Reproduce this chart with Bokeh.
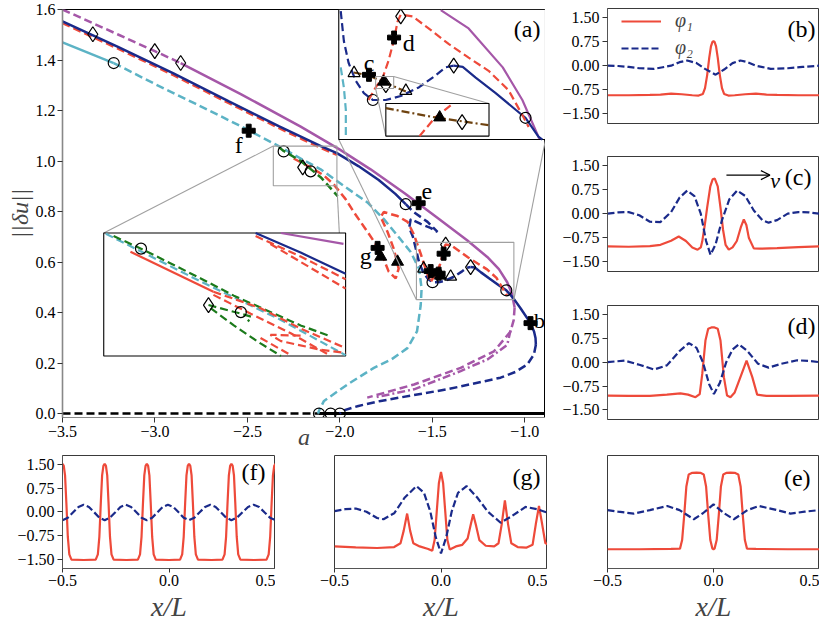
from math import pi
from bokeh.plotting import figure
from bokeh.layouts import row, column
from bokeh.models import FixedTicker, Label, Arrow, OpenHead
from bokeh.embed import file_html
from bokeh.resources import INLINE

FONT = "Liberation Serif"
RED = "#ee4a3a"
NAVY = "#1a2a8a"
CYAN = "#5cb3c5"
PURPLE = "#a557a8"
GREEN = "#1b7a1b"
BROWN = "#6e420f"
GRAY = "#a0a0a0"

# ---------------- panel (a): ticks ----------------
a_xticks = [-3.5, -3.0, -2.5, -2.0, -1.5, -1.0]
a_xlabels = ["−3.5", "−3.0", "−2.5", "−2.0", "−1.5", "−1.0"]
a_yticks = [0.0, 0.2, 0.4, 0.6, 0.8, 1.0, 1.2, 1.4, 1.6]
a_ylabels = ["0.0", "0.2", "0.4", "0.6", "0.8", "1.0", "1.2", "1.4", "1.6"]

# ---------------- panel (a): branches ----------------
trivial_dash_x = [-3.5, -2.113]
trivial_dash_y = [0.0, 0.0]
trivial_solid_x = [-2.113, -0.888]
trivial_solid_y = [0.0, 0.0]

purple_dash1_x = [-3.5, -3.2, -3.001, -2.861]
purple_dash1_y = [1.600, 1.501, 1.435, 1.388]
purple_solid_x = [-2.861, -2.536, -2.212, -2.0, -1.834, -1.65, -1.473, -1.312, -1.203, -1.14, -1.095, -1.07, -1.055]
purple_solid_y = [1.388, 1.265, 1.136, 1.045, 0.967, 0.872, 0.775, 0.686, 0.620, 0.572, 0.520, 0.475, 0.420]
purple_dash2_x = [-1.055, -1.060, -1.077, -1.167, -1.347, -1.599, -1.852]
purple_dash2_y = [0.420, 0.370, 0.325, 0.246, 0.181, 0.115, 0.063]
purple_dash3_x = [-1.077, -1.095, -1.200, -1.347, -1.599, -1.816]
purple_dash3_y = [0.330, 0.272, 0.215, 0.168, 0.096, 0.063]

navy_solid1_x = [-3.5, -3.2, -2.9, -2.6, -2.328, -2.1, -2.016, -1.9, -1.79, -1.70, -1.644]
navy_solid1_y = [1.553, 1.452, 1.347, 1.236, 1.137, 1.058, 1.031, 0.980, 0.925, 0.870, 0.829]
navy_dash1_x = [-1.644, -1.601, -1.526, -1.472, -1.510, -1.563, -1.617, -1.625, -1.605, -1.585, -1.572,
                -1.550, -1.522, -1.499, -1.466, -1.428, -1.382, -1.339, -1.314, -1.293]
navy_dash1_y = [0.829, 0.798, 0.759, 0.719, 0.735, 0.751, 0.770, 0.735, 0.700, 0.640, 0.600,
                0.560, 0.532, 0.520, 0.520, 0.527, 0.542, 0.563, 0.577, 0.580]
navy_solid2_x = [-1.293, -1.270, -1.237, -1.186, -1.135, -1.100, -1.060, -1.023, -0.969, -0.950, -0.942, -0.940]
navy_solid2_y = [0.580, 0.578, 0.559, 0.532, 0.505, 0.488, 0.455, 0.417, 0.358, 0.325, 0.299, 0.272]
navy_dash2_x = [-0.940, -0.951, -0.987, -1.05, -1.131, -1.28, -1.419, -1.6, -1.779, -1.9, -1.986, -2.0]
navy_dash2_y = [0.272, 0.233, 0.194, 0.165, 0.142, 0.118, 0.096, 0.073, 0.050, 0.030, 0.011, 0.0]

cyan_solid_x = [-3.5, -3.223]
cyan_solid_y = [1.470, 1.388]
cyan_dash_x = [-3.223, -3.0, -2.779, -2.55, -2.336, -2.2, -2.104, -1.978, -1.851, -1.762, -1.689, -1.617,
               -1.572, -1.558, -1.563, -1.583, -1.635, -1.72, -1.816, -1.959, -2.086, -2.113, -2.118]
cyan_dash_y = [1.388, 1.305, 1.226, 1.143, 1.061, 1.005, 0.967, 0.901, 0.836, 0.770, 0.705, 0.640,
               0.574, 0.495, 0.428, 0.325, 0.259, 0.215, 0.181, 0.115, 0.050, 0.011, 0.0]

green_x = [-2.33, -2.304, -2.212, -2.104, -2.012]
green_y = [1.055, 1.040, 1.000, 0.936, 0.861]

red_top_x = [-3.5, -3.2, -2.9, -2.6, -2.328, -2.2, -2.1, -2.016]
red_top_y = [1.546, 1.445, 1.340, 1.229, 1.130, 1.085, 1.051, 1.024]
red_branch_x = [-2.25, -2.16, -2.09, -2.034, -1.969, -1.925, -1.850, -1.779, -1.736, -1.698, -1.682, -1.709,
                -1.742, -1.779, -1.763, -1.688, -1.634, -1.601, -1.563, -1.535, -1.515, -1.510, -1.492,
                -1.474, -1.459, -1.446, -1.436, -1.428, -1.398, -1.357, -1.306, -1.255, -1.204, -1.153,
                -1.115, -1.097]
red_branch_y = [1.010, 0.975, 0.945, 0.908, 0.849, 0.798, 0.719, 0.641, 0.562, 0.535, 0.574, 0.653,
                0.719, 0.778, 0.798, 0.782, 0.759, 0.711, 0.633, 0.570, 0.530, 0.520, 0.542,
                0.559, 0.589, 0.623, 0.657, 0.669, 0.666, 0.645, 0.618, 0.594, 0.571, 0.537,
                0.490, 0.468]

# markers of panel (a)
circ_x = [-3.223, -2.304, -2.158, -1.644, -1.499, -1.100, -2.113, -2.050, -2.0]
circ_y = [1.388, 1.038, 0.959, 0.829, 0.520, 0.488, 0.0, 0.0, 0.0]
diam_x = [-3.336, -3.001, -2.861, -2.201, -1.428, -1.293]
diam_y = [1.502, 1.435, 1.388, 0.975, 0.669, 0.580]
plus_x = [-2.493, -1.574, -1.796, -1.439, -1.509, -1.466, -0.969]
plus_y = [1.120, 0.833, 0.656, 0.633, 0.564, 0.554, 0.358]
trif_x = [-1.779, -1.688, -1.456]
trif_y = [0.621, 0.601, 0.546]
trio_x = [-1.547, -1.401]
trio_y = [0.574, 0.542]

# ---------------- inset 1 (upper right, zoom of the cluster) ----------------
in1_rect = (-1.586, -1.059, 0.451, 0.678)
in1_frame = (-2.006, -0.888, 1.085, 1.6)
in1_navy_dash_x = [-1.581, -1.573, -1.561, -1.543, -1.522, -1.499, -1.466, -1.428, -1.382, -1.339, -1.314, -1.293]
in1_navy_dash_y = [0.675, 0.623, 0.585, 0.554, 0.532, 0.520, 0.520, 0.527, 0.542, 0.563, 0.577, 0.580]
in1_navy_solid_x = [-1.293, -1.270, -1.237, -1.186, -1.135, -1.110, -1.077, -1.067]
in1_navy_solid_y = [0.580, 0.578, 0.559, 0.532, 0.503, 0.489, 0.456, 0.451]
in1_red_x = [-1.510, -1.492, -1.474, -1.459, -1.446, -1.436, -1.428, -1.398, -1.357, -1.306, -1.255, -1.204, -1.153, -1.115, -1.102]
in1_red_y = [0.520, 0.542, 0.559, 0.589, 0.623, 0.657, 0.669, 0.666, 0.645, 0.618, 0.594, 0.571, 0.537, 0.490, 0.473]
in1_cyan_x = [-1.581, -1.573, -1.568, -1.568]
in1_cyan_y = [0.577, 0.542, 0.503, 0.452]
in1_purple_x = [-1.326, -1.255, -1.168, -1.118, -1.077, -1.075]
in1_purple_y = [0.677, 0.645, 0.577, 0.520, 0.456, 0.452]
in1_brown_x = [-1.548, -1.510, -1.471, -1.415]
in1_brown_y = [0.568, 0.563, 0.551, 0.535]
in1_circ_x = [-1.499, -1.110]
in1_circ_y = [0.520, 0.489]
in1_diam_x = [-1.428, -1.466, -1.293]
in1_diam_y = [0.666, 0.546, 0.580]
in1_plus_x = [-1.509, -1.445]
in1_plus_y = [0.564, 0.629]
in1_trif_x = [-1.472]
in1_trif_y = [0.552]
in1_trio_x = [-1.547, -1.415]
in1_trio_y = [0.567, 0.536]

# sub-inset inside inset 1
sub_rect = (-1.492, -1.446, 0.540, 0.561)
sub_frame = (-1.466, -1.203, 0.457, 0.514)
sub_brown_x = [-1.492, -1.470, -1.446]
sub_brown_y = [0.558, 0.552, 0.547]
sub_red_x = [-1.477, -1.470, -1.462]
sub_red_y = [0.540, 0.552, 0.561]
sub_trif_x = [-1.468]
sub_trif_y = [0.552]
sub_diam_x = [-1.458]
sub_diam_y = [0.549]

# ---------------- inset 2 (lower left) ----------------
in2_rect = (-2.36, -2.016, 0.902, 1.059)
in2_frame = (-3.277, -1.969, 0.228, 0.715)
in2_cyan_x = [-2.357, -2.222, -2.108, -2.016]
in2_cyan_y = [1.058, 0.997, 0.948, 0.903]
in2_green_a_x = [-2.346, -2.307, -2.222, -2.175, -2.080, -2.037]
in2_green_a_y = [1.055, 1.039, 1.001, 0.979, 0.941, 0.927]
in2_green_b_x = [-2.211, -2.165, -2.150, -2.155]
in2_green_b_y = [0.967, 0.956, 0.952, 0.946]
in2_green_c_x = [-2.208, -2.175, -2.137, -2.108]
in2_green_c_y = [0.963, 0.941, 0.918, 0.902]
in2_red_solid_x = [-2.322, -2.204]
in2_red_solid_y = [1.035, 0.984]
in2_red1_x = [-2.204, -2.137, -2.080, -2.016]
in2_red1_y = [0.984, 0.963, 0.937, 0.912]
in2_red2_x = [-2.204, -2.151, -2.094, -2.037]
in2_red2_y = [0.980, 0.956, 0.931, 0.902]
in2_red3_x = [-2.080, -2.123, -2.108, -2.052, -2.016]
in2_red3_y = [0.928, 0.929, 0.921, 0.910, 0.906]
in2_red4_x = [-2.137, -2.094]
in2_red4_y = [0.925, 0.903]
in2_navy_x = [-2.144, -2.080, -2.016]
in2_navy_y = [1.059, 1.034, 1.007]
in2_redn1_x = [-2.144, -2.080, -2.016]
in2_redn1_y = [1.055, 1.029, 1.000]
in2_redn2_x = [-2.123, -2.016]
in2_redn2_y = [1.045, 0.988]
in2_purple_x = [-2.108, -2.019]
in2_purple_y = [1.059, 1.045]
in2_circ_x = [-2.307, -2.165]
in2_circ_y = [1.039, 0.958]
in2_diam_x = [-2.211]
in2_diam_y = [0.967]

# ---------------- profile panels ----------------
sub_yticks = [1.5, 0.75, 0.0, -0.75, -1.5]
sub_ylabels = ["1.50", "0.75", "0.00", "−0.75", "−1.50"]
sub_xticks = [-0.5, 0.0, 0.5]
sub_xlabels = ["−0.5", "0.0", "0.5"]

b_x1 = [-0.5, -0.4, -0.3, -0.25, -0.2, -0.15, -0.1, -0.07, -0.05, -0.04, -0.03, -0.02, -0.012, -0.005, 0.0,
        0.005, 0.012, 0.02, 0.03, 0.04, 0.05, 0.07, 0.1, 0.15, 0.2, 0.25, 0.3, 0.4, 0.5]
b_y1 = [-0.92, -0.92, -0.91, -0.90, -0.87, -0.89, -0.92, -0.93, -0.88, -0.70, -0.30, 0.25, 0.60, 0.74, 0.76,
        0.74, 0.60, 0.25, -0.30, -0.70, -0.88, -0.93, -0.92, -0.89, -0.87, -0.90, -0.91, -0.92, -0.92]
b_x2 = [-0.5, -0.45, -0.4, -0.35, -0.28, -0.2, -0.16, -0.124, -0.08, -0.04, 0.01, 0.05, 0.09, 0.127,
        0.16, 0.2, 0.27, 0.35, 0.42, 0.5]
b_y2 = [0.0, -0.01, -0.04, -0.08, -0.10, 0.0, 0.11, 0.16, 0.08, -0.10, -0.28, -0.12, 0.08, 0.16,
        0.11, 0.0, -0.10, -0.08, -0.04, 0.0]

c_x1 = [-0.5, -0.4, -0.3, -0.25, -0.2, -0.164, -0.13, -0.1, -0.075, -0.06, -0.053, -0.04, -0.03, -0.015,
        -0.004, 0.006, 0.02, 0.033, 0.045, 0.057, 0.072, 0.09, 0.11, 0.13, 0.143, 0.155, 0.167, 0.19,
        0.22, 0.3, 0.4, 0.5]
c_y1 = [-1.02, -1.03, -1.01, -0.97, -0.84, -0.71, -0.85, -1.05, -1.12, -1.05, -0.86, -0.30, 0.19, 0.85,
        1.07, 1.09, 0.85, 0.19, -0.50, -0.97, -1.12, -1.05, -0.85, -0.40, -0.18, -0.35, -0.76, -1.08,
        -1.09, -1.07, -1.04, -1.02]
c_x2 = [-0.5, -0.45, -0.4, -0.35, -0.3, -0.25, -0.2, -0.16, -0.124, -0.09, -0.06, -0.035, -0.014, 0.01,
        0.04, 0.075, 0.112, 0.15, 0.19, 0.23, 0.26, 0.3, 0.35, 0.4, 0.45, 0.5]
c_y2 = [0.0, 0.04, 0.05, -0.05, -0.25, -0.26, 0.05, 0.50, 0.72, 0.55, 0.0, -0.85, -1.28, -0.95,
        -0.20, 0.45, 0.72, 0.55, 0.10, -0.20, -0.28, -0.20, 0.0, 0.05, 0.04, 0.0]

d_x1 = [-0.5, -0.4, -0.3, -0.22, -0.156, -0.12, -0.085, -0.065, -0.053, -0.038, -0.025, -0.01, 0.005,
        0.02, 0.033, 0.049, 0.064, 0.08, 0.1, 0.127, 0.156, 0.183, 0.206, 0.25, 0.35, 0.5]
d_y1 = [-1.05, -1.06, -1.06, -1.02, -0.98, -1.02, -1.10, -1.00, -0.37, 0.68, 1.05, 1.09, 1.09,
        1.05, 0.68, -0.47, -1.05, -1.10, -0.95, -0.47, 0.05, -0.47, -1.02, -1.06, -1.06, -1.05]
d_x2 = [-0.5, -0.42, -0.35, -0.28, -0.22, -0.16, -0.116, -0.08, -0.05, -0.02, 0.002, 0.03, 0.06, 0.09,
        0.12, 0.16, 0.21, 0.26, 0.32, 0.395, 0.45, 0.5]
d_y2 = [0.0, 0.05, -0.08, -0.23, -0.10, 0.35, 0.60, 0.45, 0.0, -0.70, -1.0, -0.65, 0.0, 0.40,
        0.56, 0.35, -0.05, -0.17, -0.05, 0.06, 0.04, 0.0]

f_x1 = [-0.5, -0.494, -0.488, -0.482, -0.475, -0.468, -0.458, -0.40,
        -0.344, -0.334, -0.327, -0.320, -0.314, -0.308, -0.302, -0.296, -0.290, -0.284, -0.277, -0.270, -0.260,
        -0.20,
        -0.146, -0.136, -0.129, -0.122, -0.116, -0.110, -0.104, -0.098, -0.092, -0.086, -0.079, -0.072, -0.062,
        0.0,
        0.052, 0.062, 0.069, 0.076, 0.082, 0.088, 0.094, 0.100, 0.106, 0.112, 0.119, 0.126, 0.136,
        0.20,
        0.251, 0.261, 0.268, 0.275, 0.281, 0.287, 0.293, 0.299, 0.305, 0.311, 0.318, 0.325, 0.335,
        0.40, 0.458, 0.468, 0.475, 0.482, 0.488, 0.494, 0.5]
f_y1 = [1.52, 1.45, 1.15, 0.3, -0.8, -1.35, -1.52, -1.53,
        -1.52, -1.35, -0.8, 0.3, 1.15, 1.45, 1.52, 1.45, 1.15, 0.3, -0.8, -1.35, -1.52,
        -1.53,
        -1.52, -1.35, -0.8, 0.3, 1.15, 1.45, 1.52, 1.45, 1.15, 0.3, -0.8, -1.35, -1.52,
        -1.53,
        -1.52, -1.35, -0.8, 0.3, 1.15, 1.45, 1.52, 1.45, 1.15, 0.3, -0.8, -1.35, -1.52,
        -1.53,
        -1.52, -1.35, -0.8, 0.3, 1.15, 1.45, 1.52, 1.45, 1.15, 0.3, -0.8, -1.35, -1.52,
        -1.53, -1.52, -1.35, -0.8, 0.3, 1.15, 1.45, 1.52]
f_x2 = [-0.5, -0.475, -0.45, -0.425, -0.401, -0.376, -0.351, -0.327, -0.302, -0.277, -0.252, -0.228,
        -0.203, -0.178, -0.153, -0.129, -0.104, -0.079, -0.054, -0.030, -0.005, 0.020, 0.045, 0.069,
        0.094, 0.119, 0.144, 0.169, 0.194, 0.219, 0.244, 0.268, 0.293, 0.319, 0.345, 0.371, 0.397,
        0.423, 0.448, 0.474, 0.5]
f_y2 = [-0.27, -0.19, -0.02, 0.15, 0.22, 0.15, -0.02, -0.19, -0.27, -0.19, -0.02, 0.15,
        0.22, 0.15, -0.02, -0.19, -0.27, -0.19, -0.02, 0.15, 0.22, 0.15, -0.02, -0.19,
        -0.27, -0.19, -0.02, 0.15, 0.22, 0.15, -0.02, -0.19, -0.27, -0.19, -0.02, 0.15, 0.22,
        0.15, -0.02, -0.19, -0.27]

g_x1 = [-0.5, -0.4, -0.3, -0.22, -0.19, -0.175, -0.159, -0.145, -0.13, -0.1, -0.06, -0.041, -0.03,
        -0.02, -0.01, 0.0, 0.01, 0.02, 0.03, 0.041, 0.07, 0.1, 0.125, 0.14, 0.151, 0.165, 0.18, 0.21,
        0.25, 0.27, 0.285, 0.30, 0.315, 0.33, 0.36, 0.4, 0.43, 0.445, 0.46, 0.475, 0.49, 0.5]
g_y1 = [-1.10, -1.13, -1.15, -1.12, -1.0, -0.6, -0.06, -0.6, -1.0, -1.1, -1.18, -1.24, -0.9,
        0.0, 0.9, 1.26, 0.9, 0.0, -0.9, -1.2, -1.1, -1.05, -0.85, -0.4, -0.08, -0.45, -0.9, -1.08,
        -1.1, -1.0, -0.4, 0.36, -0.4, -1.0, -1.12, -1.14, -1.05, -0.4, 0.18, -0.4, -1.0, -1.02]
g_x2 = [-0.5, -0.45, -0.40, -0.35, -0.30, -0.27, -0.22, -0.17, -0.115, -0.08, -0.05, -0.025, 0.0,
        0.025, 0.05, 0.08, 0.12, 0.17, 0.22, 0.28, 0.33, 0.397, 0.45, 0.5]
g_y2 = [0.02, 0.08, 0.10, 0.0, -0.20, -0.24, -0.05, 0.45, 0.81, 0.60, 0.0, -0.80, -1.32,
        -0.80, 0.0, 0.60, 0.81, 0.45, 0.0, -0.35, -0.15, 0.15, 0.08, -0.03]

e_x1 = [-0.5, -0.35, -0.2, -0.158, -0.148, -0.138, -0.128, -0.117, -0.1, -0.08, -0.062, -0.046,
        -0.035, -0.025, -0.015, -0.005, 0.0, 0.005, 0.015, 0.025, 0.035, 0.046, 0.062, 0.08, 0.1,
        0.117, 0.128, 0.138, 0.148, 0.158, 0.2, 0.35, 0.5]
e_y1 = [-1.19, -1.19, -1.18, -1.17, -0.9, -0.1, 0.8, 1.18, 1.23, 1.24, 1.23, 1.18,
        0.8, -0.1, -0.9, -1.17, -1.19, -1.17, -0.9, -0.1, 0.8, 1.18, 1.23, 1.24, 1.23,
        1.18, 0.8, -0.1, -0.9, -1.17, -1.18, -1.19, -1.19]
e_x2 = [-0.5, -0.45, -0.376, -0.3, -0.218, -0.16, -0.093, -0.05, 0.0, 0.05, 0.096, 0.16, 0.214,
        0.3, 0.363, 0.43, 0.5]
e_y2 = [0.05, 0.0, -0.06, 0.05, 0.18, 0.05, -0.24, -0.05, 0.23, -0.05, -0.24, 0.05, 0.18,
        0.05, -0.06, 0.0, 0.05]


# ---------------- helpers ----------------
def mapper(rect, frame):
    rx0, rx1, ry0, ry1 = rect
    fx0, fx1, fy0, fy1 = frame

    def f(xs, ys):
        X = [fx0 + (x - rx0) / (rx1 - rx0) * (fx1 - fx0) for x in xs]
        Y = [fy0 + (y - ry0) / (ry1 - ry0) * (fy1 - fy0) for y in ys]
        return X, Y
    return f


def chain(m_outer, m_inner):
    def f(xs, ys):
        a, b = m_inner(xs, ys)
        return m_outer(a, b)
    return f


def ident(xs, ys):
    return list(xs), list(ys)


def ln(fig, xs, ys, color, dash="solid", width=2.5, m=ident):
    X, Y = m(xs, ys)
    fig.line(X, Y, line_color=color, line_dash=dash, line_width=width)


def mk(fig, xs, ys, marker, size, filled, m=ident):
    X, Y = m(xs, ys)
    if filled:
        fig.scatter(X, Y, marker=marker, size=size, fill_color="black", line_color="black")
    else:
        fig.scatter(X, Y, marker=marker, size=size, fill_alpha=0, line_color="black", line_width=1.2)


def txt(fig, x, y, s, size="24px", align="left", baseline="alphabetic", italic=False, angle=0):
    fig.add_layout(Label(x=x, y=y, text=s, text_font=FONT, text_font_size=size, text_align=align,
                         text_baseline=baseline, text_font_style="italic" if italic else "normal",
                         angle=angle, text_color="black"))


def box(fig, rect, color, fill=False, m=ident):
    X, Y = m([rect[0], rect[1]], [rect[2], rect[3]])
    fig.quad(left=[X[0]], right=[X[1]], bottom=[Y[0]], top=[Y[1]],
             fill_color="white", fill_alpha=1.0 if fill else 0.0,
             line_color=color, line_width=1.1)


def connector(fig, p1, p2, m=ident):
    X, Y = m([p1[0], p2[0]], [p1[1], p2[1]])
    fig.line(X, Y, line_color=GRAY, line_width=1.1)


def style_axis(ax, size="16px"):
    ax.major_label_text_font = FONT
    ax.major_label_text_font_size = size
    ax.major_label_text_color = "black"
    ax.minor_tick_line_color = None
    ax.major_tick_in = 0
    ax.major_tick_out = 5
    ax.major_label_standoff = 3
    ax.major_tick_line_color = "#333333"
    ax.axis_line_color = "#555555"


# ---------------- main panel (a) ----------------
p = figure(width=545, height=455, x_range=(-3.5, -0.888), y_range=(-0.0157, 1.6),
           output_backend="svg", toolbar_location=None,
           min_border_left=62, min_border_right=0, min_border_top=9, min_border_bottom=38)
p.xgrid.visible = False
p.ygrid.visible = False
p.outline_line_color = "black"
style_axis(p.xaxis[0])
style_axis(p.yaxis[0])
p.xaxis[0].ticker = FixedTicker(ticks=a_xticks)
p.xaxis[0].major_label_overrides = dict(zip(a_xticks, a_xlabels))
p.yaxis[0].ticker = FixedTicker(ticks=a_yticks)
p.yaxis[0].major_label_overrides = dict(zip(a_yticks, a_ylabels))
p.xaxis[0].axis_line_color = "#888888"
p.yaxis[0].axis_line_color = "#888888"
p.yaxis[0].axis_line_width = 1.6
p.yaxis[0].major_label_standoff = 2
p.yaxis[0].axis_label = "||δu||"
p.yaxis[0].axis_label_text_font = FONT
p.yaxis[0].axis_label_text_font_size = "24px"
p.yaxis[0].axis_label_text_font_style = "italic"
p.yaxis[0].axis_label_standoff = 0
p.xaxis[0].axis_label = "a"
p.xaxis[0].axis_label_text_font = FONT
p.xaxis[0].axis_label_text_font_size = "24px"
p.xaxis[0].axis_label_text_font_style = "italic"
p.xaxis[0].axis_label_standoff = -16

D = "8 4"
ln(p, trivial_dash_x, trivial_dash_y, "black", D, 2.5)
ln(p, trivial_solid_x, trivial_solid_y, "black", "solid", 3)
ln(p, purple_dash1_x, purple_dash1_y, PURPLE, D)
ln(p, purple_solid_x, purple_solid_y, PURPLE)
ln(p, purple_dash2_x, purple_dash2_y, PURPLE, D)
ln(p, purple_dash3_x, purple_dash3_y, PURPLE, "8 3 2 3")
ln(p, cyan_solid_x, cyan_solid_y, CYAN)
ln(p, cyan_dash_x, cyan_dash_y, CYAN, D)
ln(p, red_top_x, red_top_y, RED, D)
ln(p, navy_solid1_x, navy_solid1_y, NAVY)
ln(p, navy_dash1_x, navy_dash1_y, NAVY, D)
ln(p, navy_solid2_x, navy_solid2_y, NAVY)
ln(p, navy_dash2_x, navy_dash2_y, NAVY, D)
ln(p, red_branch_x, red_branch_y, RED, D)
ln(p, green_x, green_y, GREEN, D)

mk(p, circ_x, circ_y, "circle", 11, False)
mk(p, diam_x, diam_y, "diamond", 15, False)
mk(p, plus_x, plus_y, "plus", 13, True)
mk(p, trif_x, trif_y, "triangle", 12, True)
mk(p, trio_x, trio_y, "triangle", 12, False)

txt(p, -2.525, 1.063, "f", align="right")
txt(p, -1.558, 0.878, "e")
txt(p, -1.828, 0.625, "g", align="right")
txt(p, -0.891, 0.370, "b", size="22px", align="right")

# zoom rectangles and connectors
box(p, in1_rect, GRAY)
box(p, in2_rect, GRAY)
connector(p, (in1_rect[0], in1_rect[2]), (in1_frame[0], in1_frame[2]))
connector(p, (in1_rect[1], in1_rect[2]), (in1_frame[1], in1_frame[2]))
connector(p, (in2_rect[0], in2_rect[3]), (in2_frame[0], in2_frame[3]))
connector(p, (in2_rect[1], in2_rect[2]), (in2_frame[1], in2_frame[2]))

# inset 2
m2 = mapper(in2_rect, in2_frame)
box(p, in2_rect, "black", fill=True, m=m2)
W = 2.2
ln(p, in2_cyan_x, in2_cyan_y, CYAN, D, W, m2)
ln(p, in2_green_a_x, in2_green_a_y, GREEN, D, W, m2)
ln(p, in2_green_b_x, in2_green_b_y, GREEN, D, W, m2)
ln(p, in2_green_c_x, in2_green_c_y, GREEN, D, W, m2)
ln(p, in2_red_solid_x, in2_red_solid_y, RED, "solid", W, m2)
ln(p, in2_red1_x, in2_red1_y, RED, D, W, m2)
ln(p, in2_red2_x, in2_red2_y, RED, D, W, m2)
ln(p, in2_red3_x, in2_red3_y, RED, D, W, m2)
ln(p, in2_red4_x, in2_red4_y, RED, D, W, m2)
ln(p, in2_purple_x, in2_purple_y, PURPLE, "solid", W, m2)
ln(p, in2_navy_x, in2_navy_y, NAVY, "solid", W, m2)
ln(p, in2_redn1_x, in2_redn1_y, RED, D, W, m2)
ln(p, in2_redn2_x, in2_redn2_y, RED, D, W, m2)
mk(p, in2_circ_x, in2_circ_y, "circle", 11, False, m2)
mk(p, in2_diam_x, in2_diam_y, "diamond", 15, False, m2)

# inset 1
m1 = mapper(in1_rect, in1_frame)
box(p, in1_rect, "black", fill=True, m=m1)
ln(p, in1_cyan_x, in1_cyan_y, CYAN, D, W, m1)
ln(p, in1_purple_x, in1_purple_y, PURPLE, "solid", W, m1)
ln(p, in1_navy_dash_x, in1_navy_dash_y, NAVY, D, W, m1)
ln(p, in1_navy_solid_x, in1_navy_solid_y, NAVY, "solid", W, m1)
ln(p, in1_red_x, in1_red_y, RED, D, W, m1)
ln(p, in1_brown_x, in1_brown_y, BROWN, "8 3 2 3", W, m1)
mk(p, in1_circ_x, in1_circ_y, "circle", 11, False, m1)
mk(p, in1_diam_x, in1_diam_y, "diamond", 15, False, m1)
mk(p, in1_plus_x, in1_plus_y, "plus", 13, True, m1)
mk(p, in1_trif_x, in1_trif_y, "triangle", 12, True, m1)
mk(p, in1_trio_x, in1_trio_y, "triangle", 12, False, m1)
cx, cy = m1([-1.522, -1.423], [0.585, 0.620])
txt(p, cx[0], cy[0], "c")
txt(p, cx[1], cy[1], "d")

# sub-inset inside inset 1
box(p, sub_rect, GRAY, m=m1)
connector(p, (sub_rect[0], sub_rect[2]), (sub_frame[0], sub_frame[2]), m1)
connector(p, (sub_rect[1], sub_rect[3]), (sub_frame[1], sub_frame[3]), m1)
ms = chain(m1, mapper(sub_rect, sub_frame))
box(p, sub_rect, "black", fill=True, m=ms)
ln(p, sub_red_x, sub_red_y, RED, D, W, ms)
ln(p, sub_brown_x, sub_brown_y, BROWN, "8 3 2 3", W, ms)
mk(p, sub_trif_x, sub_trif_y, "triangle", 12, True, ms)
mk(p, sub_diam_x, sub_diam_y, "diamond", 15, False, ms)

txt(p, -0.915, 1.576, "(a)", align="right", baseline="top")


# ---------------- profile panels ----------------
def make_sub(width, height, mbl, mbt, mbb, show_x, show_y):
    f = figure(width=width, height=height, x_range=(-0.5, 0.5), y_range=(-1.8, 1.78),
               output_backend="svg", toolbar_location=None,
               min_border_left=mbl, min_border_right=0, min_border_top=mbt, min_border_bottom=mbb)
    f.xgrid.visible = False
    f.ygrid.visible = False
    f.outline_line_color = "#3a3a3a"
    if show_y:
        ax = f.yaxis[0]
        style_axis(ax)
        ax.ticker = FixedTicker(ticks=sub_yticks)
        ax.major_label_overrides = dict(zip(sub_yticks, sub_ylabels))
    else:
        f.yaxis.visible = False
    if show_x:
        ax = f.xaxis[0]
        style_axis(ax)
        ax.major_tick_out = 4
        ax.major_label_standoff = 2
        ax.ticker = FixedTicker(ticks=sub_xticks)
        ax.major_label_overrides = dict(zip(sub_xticks, sub_xlabels))
        ax.axis_label = "x/L"
        ax.axis_label_text_font = FONT
        ax.axis_label_text_font_size = "28px"
        ax.axis_label_text_font_style = "italic"
        ax.axis_label_standoff = 2
    else:
        f.xaxis.visible = False
    return f


def profiles(f, x1, y1, x2, y2, legend=False):
    if legend:
        f.line(x1, y1, line_color=RED, line_width=2.2, legend_label="φ₁")
        f.line(x2, y2, line_color=NAVY, line_width=2.2, line_dash="7 3", legend_label="φ₂")
    else:
        f.line(x1, y1, line_color=RED, line_width=2.2)
        f.line(x2, y2, line_color=NAVY, line_width=2.2, line_dash="7 3")


pb = make_sub(274, 156, 62, 8, 33, False, True)
profiles(pb, b_x1, b_y1, b_x2, b_y2, legend=True)
lg = pb.legend[0]
lg.location = (12, 62)
lg.background_fill_alpha = 0
lg.border_line_alpha = 0
lg.label_text_font = FONT
lg.label_text_font_size = "20px"
lg.label_text_font_style = "italic"
lg.glyph_width = 40
lg.label_standoff = 14
lg.spacing = 4
lg.padding = 2
lg.margin = 0
txt(pb, 0.481, 1.56, "(b)", align="right", baseline="top")

pc = make_sub(274, 149, 62, 0, 34, False, True)
profiles(pc, c_x1, c_y1, c_x2, c_y2)
pc.add_layout(Arrow(end=OpenHead(size=9, line_width=1.2, line_color="black"),
                    x_start=0.061, y_start=1.2, x_end=0.266, y_end=1.2,
                    line_width=1.2, line_color="black"))
txt(pc, 0.268, 1.03, "v", size="22px", italic=True, baseline="middle")
txt(pc, 0.462, 1.56, "(c)", align="right", baseline="top")

pd = make_sub(274, 150, 62, 0, 36, False, True)
profiles(pd, d_x1, d_y1, d_x2, d_y2)
txt(pd, 0.481, 1.56, "(d)", align="right", baseline="top")

pf = make_sub(275, 169, 62, 0, 55, True, True)
profiles(pf, f_x1, f_y1, f_x2, f_y2)
txt(pf, 0.453, 1.66, "(f)", align="right", baseline="top")

pg = make_sub(272, 169, 59, 0, 55, True, False)
profiles(pg, g_x1, g_y1, g_x2, g_y2)
txt(pg, 0.467, 1.50, "(g)", align="right", baseline="top")

pe = make_sub(272, 169, 60, 0, 55, True, False)
profiles(pe, e_x1, e_y1, e_x2, e_y2)
txt(pe, 0.458, 1.47, "(e)", align="right", baseline="top")

layout = column(row(p, column(pb, pc, pd)), row(pf, pg, pe))
open("out.html", "w").write(file_html(layout, INLINE))
